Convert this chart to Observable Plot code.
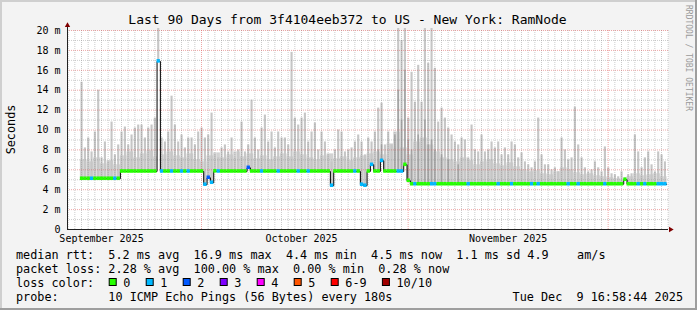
<!DOCTYPE html>
<html><head><meta charset="utf-8">
<script src="https://cdn.jsdelivr.net/npm/d3@7"></script>
<script src="https://cdn.jsdelivr.net/npm/@observablehq/plot@0.6"></script>
<style>
html,body{margin:0;padding:0;background:#f3f3f3;}
#chart{width:697px;height:310px;overflow:hidden;}
svg text{white-space:pre;}
</style></head><body><div id="chart"></div>
<script>
// ---------- data ----------
const titleText = "Last 90 Days from 3f4104eeb372 to US - New York: RamNode";
const yAxisTitle = "Seconds";
const watermark = "RRDTOOL / TOBI OETIKER";
const domainStart = Date.UTC(2025, 8, 10, 21, 36);
const domainEnd = Date.UTC(2025, 11, 10, 1, 12);
const sampleStart = Date.UTC(2025, 8, 12, 20, 0);
const sampleHours = 12;

const yTicks = [0, 2, 4, 6, 8, 10, 12, 14, 16, 18, 20];
const yMinorGrid = [1, 3, 5, 7, 9, 11, 13, 15, 17, 19];
const monthLabels = ["September 2025", "October 2025", "November 2025"];
const monthLabelDates = [Date.UTC(2025, 8, 16), Date.UTC(2025, 9, 16), Date.UTC(2025, 10, 16)];
const monthStarts = [Date.UTC(2025, 9, 1), Date.UTC(2025, 10, 1), Date.UTC(2025, 11, 1)];

// median RTT (ms), one value per 12 h
const medianMs = [
  5.1,5.1,5.1,5.1,5.1,5.1,5.1,5.1,5.1,5.1,
  5.1,5.1,5.83,5.83,5.83,5.83,5.83,5.83,5.83,5.83,
  5.83,5.83,5.83,16.9,5.83,5.83,5.83,5.83,5.83,5.83,
  5.83,5.83,5.83,5.83,5.83,5.83,5.83,4.5,5.2,4.7,
  5.85,5.83,5.83,5.83,5.83,5.83,5.83,5.83,5.83,5.83,
  6.2,5.83,5.83,5.83,5.83,5.83,5.83,5.83,5.83,5.83,
  5.83,5.83,5.83,5.83,5.83,5.83,5.83,5.83,5.83,5.83,
  5.83,5.83,5.83,5.83,5.83,4.4,5.83,5.83,5.83,5.83,
  5.83,5.83,5.83,5.83,4.5,4.4,5.83,6.5,5.83,5.83,
  6.9,5.83,5.83,5.83,5.83,5.83,5.83,6.5,4.9,4.55,
  4.55,4.55,4.55,4.55,4.55,4.55,4.55,4.55,4.55,4.55,
  4.55,4.55,4.55,4.55,4.55,4.55,4.55,4.55,4.55,4.55,
  4.55,4.55,4.55,4.55,4.55,4.55,4.55,4.55,4.55,4.55,
  4.55,4.55,4.55,4.55,4.55,4.55,4.55,4.55,4.55,4.55,
  4.55,4.55,4.55,4.55,4.55,4.55,4.55,4.55,4.55,4.55,
  4.55,4.55,4.55,4.55,4.55,4.55,4.55,4.55,4.55,4.55,
  4.55,4.55,4.55,5.0,4.55,4.55,4.55,4.55,4.55,4.55,
  4.55,4.55,4.55,4.55,4.55,4.55
];
// lost pings out of 10, per 12 h
const lossCount = [
  0,0,0,1,0,0,0,0,0,0, 1,0,0,0,0,0,0,0,0,0,
  0,0,0,1,1,0,0,1,0,0, 1,0,1,0,0,0,0,1,2,1,
  0,1,0,0,0,0,0,0,0,0, 2,0,0,0,1,0,0,0,0,1,
  0,0,0,0,0,1,0,0,1,0, 0,0,0,0,0,1,0,0,0,0,
  0,0,1,0,1,1,0,1,0,0, 1,0,0,0,0,1,1,0,0,0,
  1,0,0,0,0,1,1,0,0,0, 0,0,0,0,0,0,1,0,0,0,
  0,0,0,0,0,1,0,0,0,1, 0,0,0,0,0,1,0,1,0,0,
  0,0,0,0,0,0,1,0,0,1, 0,0,0,0,0,0,0,1,0,0,
  0,0,0,0,0,0,0,1,0,1, 0,0,0,1,1,1
];
// top of the smoke (slowest ping, ms), per 12 h
const smokeMax = [
  14.8,8.2,9.2,7.8,9.8,14.0,7.2,8.8,6.8,10.8,
  7.5,8.5,9.8,10.3,8.5,9.5,10.2,10.5,10.5,9.2,
  10.2,10.5,11.2,20.2,9.2,8.8,9.8,13.4,10.5,8.8,
  9.5,8.2,9.2,9.2,8.5,9.8,10.2,9.2,9.5,11.7,
  7.5,7.2,8.2,8.5,7.8,9.2,7.2,8.0,10.8,7.8,
  8.5,13.0,9.2,8.0,10.2,11.5,8.8,9.8,8.2,9.8,
  9.2,9.2,8.5,17.8,11.2,10.5,11.2,11.7,8.8,9.8,
  10.7,8.0,9.8,8.8,7.5,6.8,8.0,10.0,9.8,7.8,
  8.0,8.2,8.8,9.5,8.8,7.5,9.2,8.8,9.8,12.2,
  12.7,8.5,9.8,8.5,8.2,20.2,19.0,20.2,11.2,15.8,
  12.8,16.5,12.8,20.2,16.7,20.2,16.2,10.8,12.2,11.2,
  10.2,9.5,8.8,8.5,9.2,9.0,7.2,10.5,8.0,7.8,
  9.5,7.8,8.0,8.8,8.2,8.8,7.5,8.2,7.5,8.8,
  8.5,7.2,7.7,6.8,6.5,6.2,6.8,11.2,7.5,6.5,
  6.5,6.0,6.2,5.8,9.2,8.0,7.0,7.2,12.3,8.5,
  7.2,6.2,5.8,6.0,6.8,6.2,5.8,8.3,6.2,5.6,
  5.5,5.3,5.8,5.2,5.5,5.6,9.5,7.8,6.2,7.2,
  7.8,6.5,5.8,7.8,7.5,6.8
];
// dense part of the smoke (ms), one value per day
const smokeBase = [
  7.0,6.8,7.2,6.6,6.9,6.5,
  7.4,7.8,7.2,7.6,7.9,7.3,7.5,7.8,7.4,7.2,7.6,7.0,6.8,7.4,7.7,7.2,7.5,7.8,7.3,7.6,7.1,7.4,7.0,7.3,
  7.6,7.3,7.8,7.5,7.2,7.0,7.4,7.6,7.1,7.3,6.9,7.2,
  7.4,7.6,7.8,7.5,8.6,9.8,8.2,
  7.5,8.8,9.2,8.5,7.8,7.2,
  7.0,6.8,7.2,6.9,6.5,6.8,7.0,6.6,6.4,6.7,6.3,
  6.0,5.8,5.9,5.6,5.5,5.8,6.2,6.0,5.7,5.5,5.6,5.4,5.3,5.2,5.1,5.0,5.3,5.6,5.4,5.5,5.6,5.3
];
// darker smoke in the congested period (sample index, top in ms)
const darkSmokeIndex = [89, 90, 94, 95, 96, 97, 98, 99, 101, 103, 104, 105, 106, 108, 110, 113];
const darkSmokeTop = [8.0, 8.5, 9.5, 14.0, 11.0, 16.0, 9.0, 8.0, 9.5, 11.0, 8.5, 9.0, 8.0, 7.5, 7.0, 6.5];

const lossLabels = ["0", "1", "2", "3", "4", "5", "6-9", "10/10"];
const lossColors = ["#26ff00", "#00b8ff", "#0059ff", "#7e00ff", "#ff00ff", "#ff5500", "#ff0000", "#a10000"];
const legendRows = [
  "median rtt:  5.2 ms avg  16.9 ms max  4.4 ms min  4.5 ms now  1.1 ms sd 4.9    am/s",
  "packet loss: 2.28 % avg  100.00 % max  0.00 % min  0.28 % now",
  "loss color:",
  "probe:       10 ICMP Echo Pings (56 Bytes) every 180s"
];
const stampText = "Tue Dec  9 16:58:44 2025";

// ---------- build ----------
const HOUR = 3600e3;
const tAt = i => new Date(sampleStart + i * sampleHours * HOUR);
const samples = medianMs.map((m, i) => ({
  t0: tAt(i), t1: tAt(i + 1), median: m, loss: lossCount[i],
  max: smokeMax[i], base: Math.max(m, smokeBase[Math.floor(i / 2)])
}));
const darkSamples = darkSmokeIndex.map((k, j) => ({t0: tAt(k), t1: tAt(k + 1), lo: medianMs[k], hi: darkSmokeTop[j]}));
const linePts = samples.map(d => ({t: d.t0, v: d.median}));
linePts.push({t: tAt(medianMs.length), v: medianMs[medianMs.length - 1]});
const dayLines = d3.utcDay.range(new Date(domainStart), new Date(domainEnd)).filter(d => !monthStarts.includes(+d));
const lossBand = 0.18;
const FONT = "DejaVu Sans Mono";

const chart = Plot.plot({
  width: 697, height: 310,
  marginLeft: 67, marginRight: 29, marginTop: 30, marginBottom: 81,
  style: {background: "transparent", fontFamily: FONT, fontSize: "10px", color: "#000", overflow: "visible"},
  x: {type: "utc", domain: [new Date(domainStart), new Date(domainEnd)], ticks: monthLabelDates.map(d => new Date(d)),
      tickFormat: d => monthLabels[monthLabelDates.indexOf(+d)], tickSize: 0, tickPadding: 5, label: null},
  y: {domain: [0, 20], ticks: yTicks, tickFormat: d => d === 0 ? "0" : `${d} m`, tickSize: 0, tickPadding: 7, label: null},
  marks: [
    Plot.frame({fill: "#ffffff", stroke: "none"}),
    Plot.rect(samples, {x1: "t0", x2: "t1", y1: "median", y2: "base", fill: "#d2d2d2"}),
    Plot.rect(samples, {x1: "t0", x2: "t1", y1: "median", y2: "max", fill: "#c6c6c6", insetLeft: 0.6, insetRight: 0.6}),
    Plot.rect(darkSamples, {x1: "t0", x2: "t1", y1: "lo", y2: "hi", fill: "#a4a4a4", insetLeft: 0.9, insetRight: 0.9}),
    Plot.ruleY(yMinorGrid, {stroke: "#8f8f8f", strokeOpacity: 0.45, strokeDasharray: "1,1"}),
    Plot.ruleX(dayLines, {stroke: "#8f8f8f", strokeOpacity: 0.45, strokeDasharray: "1,1"}),
    Plot.ruleY(yTicks.filter(v => v > 0), {stroke: "#de5050", strokeOpacity: 0.5, strokeDasharray: "1,1"}),
    Plot.ruleX(monthStarts.map(d => new Date(d)), {stroke: "#de5050", strokeOpacity: 0.5, strokeDasharray: "1,1"}),
    Plot.line(linePts, {x: "t", y: "v", curve: "step-after", stroke: "#000", strokeWidth: 1}),
    Plot.rect(samples, {x1: "t0", x2: "t1", y1: d => d.median - lossBand, y2: d => d.median + lossBand, fill: d => lossColors[d.loss]}),
    Plot.ruleX([new Date(domainStart)], {y1: 0, y2: 20.5, stroke: "#222"}),
    Plot.ruleY([0], {x1: new Date(domainStart), x2: new Date(domainEnd), stroke: "#222"}),
    Plot.dot([{t: new Date(domainStart), v: 20.52}], {x: "t", y: "v", symbol: "triangle", r: 2, fill: "#7f0000", stroke: "none"}),
    Plot.dot([{t: new Date(domainEnd + 0.31 * 24 * HOUR), v: 0}], {x: "t", y: "v", symbol: "triangle", r: 2, rotate: 90, fill: "#7f0000", stroke: "none"})
  ]
});
document.getElementById("chart").appendChild(chart);

// ---------- frame, titles and legend ----------
const svg = d3.select(chart);
const bg = svg.insert("g", ":first-child");
bg.append("rect").attr("x", 0).attr("y", 0).attr("width", 697).attr("height", 310).attr("fill", "#f3f3f3");
bg.append("rect").attr("x", 0).attr("y", 0).attr("width", 697).attr("height", 2).attr("fill", "#cfcfcf");
bg.append("rect").attr("x", 0).attr("y", 0).attr("width", 2).attr("height", 310).attr("fill", "#cfcfcf");
bg.append("rect").attr("x", 0).attr("y", 308).attr("width", 697).attr("height", 2).attr("fill", "#9e9e9e");
bg.append("rect").attr("x", 695).attr("y", 0).attr("width", 2).attr("height", 310).attr("fill", "#9e9e9e");

const txt = (x, y, s, size, anchor = "start") => svg.append("text").attr("x", x).attr("y", y)
  .attr("font-family", FONT).attr("font-size", size).attr("text-anchor", anchor).attr("fill", "#000").text(s);

txt(347.5, 24, titleText, "13px", "middle");
svg.append("text").attr("transform", "translate(15,129.5) rotate(-90)").attr("text-anchor", "middle")
  .attr("font-family", FONT).attr("font-size", "11.8px").attr("fill", "#000").text(yAxisTitle);
svg.append("text").attr("transform", "translate(685.5,5) rotate(90)").attr("text-anchor", "start")
  .attr("font-family", FONT).attr("font-size", "8px").attr("fill", "#9a9a9a").text(watermark);

const rowY = [258.5, 272.5, 286.5, 300.5];
legendRows.forEach((s, i) => txt(16, rowY[i], s, "11.8px"));
txt(683, rowY[3], stampText, "11.8px", "end");

let sx = 108.7;
lossLabels.forEach((lab, k) => {
  svg.append("rect").attr("x", sx + 0.5).attr("y", 278.5).attr("width", 7).attr("height", 7)
    .attr("fill", lossColors[k]).attr("stroke", "#000").attr("stroke-width", 1);
  txt(sx + 14.6, rowY[2], lab, "11.8px");
  sx += 37 + (lab.length - 1) * 7.1;
});
</script>
</body></html>
